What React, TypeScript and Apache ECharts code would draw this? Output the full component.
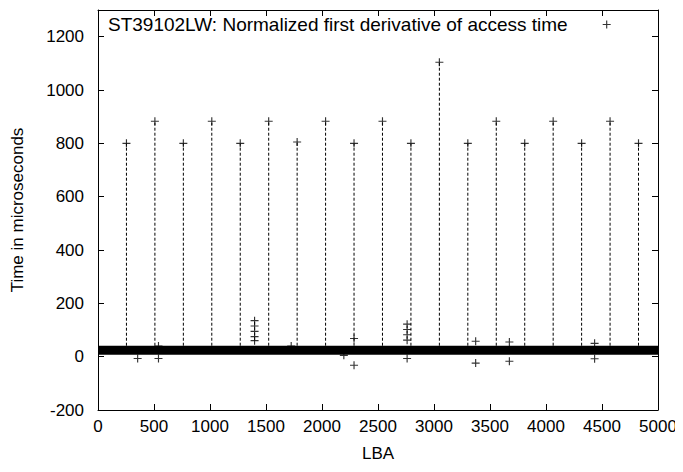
import React, { useEffect, useRef } from "react";
import * as echarts from "echarts";

// Periodic spikes (LBA, time in µs)
const spikeLBA = [254, 508, 762, 1016, 1270, 1524, 1778, 2032, 2286, 2540, 2794, 3048, 3302, 3556, 3810, 4064, 4318, 4572, 4826];
const spikeValue = [800, 883, 800, 883, 800, 883, 805, 883, 800, 883, 800, 1104, 800, 883, 800, 883, 800, 883, 800];

// Isolated outliers around the baseline
const outlierLBA = [1398, 1398, 1398, 1398, 1398, 2286, 2286, 2760, 2760, 2760, 2760, 2760, 354, 540, 540, 1725, 2195, 3372, 3372, 3673, 3673, 4434, 4434];
const outlierValue = [135, 115, 95, 75, 60, 68, -32, 122, 102, 82, 62, -7, -7, 40, -7, 40, 5, 58, -24, 55, -17, 50, -8];

// Dense baseline band (LBA range and value range)
const bandLBA = [0, 5000];
const bandLow = [7, 7];
const bandHigh = [41, 41];

// Axis ticks
const xMin = 0, xMax = 5000, xStep = 500;
const yMin = -200, yMax = 1300, yStep = 200;

const seriesName = "ST39102LW: Normalized first derivative of access time";
const plus = "path://M0,3L7,3L7,4L0,4Z M3,0L4,0L4,7L3,7Z";
const font = "Liberation Sans, Arial, Helvetica, sans-serif";

export default function App() {
  const ref = useRef<HTMLDivElement>(null);
  useEffect(() => {
    if (!ref.current) return;
    const chart = echarts.init(ref.current, null, { renderer: "svg" });
    const points = [
      ...spikeLBA.map((x, i) => [x, spikeValue[i]]),
      ...outlierLBA.map((x, i) => [x, outlierValue[i]]),
    ];
    const axisCommon = {
      type: "value" as const,
      splitLine: { show: false },
      axisLine: { show: true, onZero: false, lineStyle: { color: "#000", width: 1 } },
      axisTick: { show: true, inside: true, length: 6, lineStyle: { color: "#000" } },
    };
    const fmt = (v: number) => String(v);
    chart.setOption({
      animation: false,
      backgroundColor: "#fff",
      grid: { left: 98, right: 25, top: 10, bottom: 62 },
      legend: {
        left: 103,
        top: 10,
        align: "right",
        itemWidth: 8,
        itemHeight: 8,
        data: [{ name: seriesName, icon: plus }],
        textStyle: { color: "#000", fontSize: 19, fontFamily: font, padding: [0, 30, 0, 0] },
      },
      xAxis: [
        {
          ...axisCommon,
          min: xMin, max: xMax, interval: xStep,
          name: "LBA", nameLocation: "middle", nameGap: 35,
          nameTextStyle: { color: "#000", fontSize: 17, fontFamily: font },
          axisLabel: { color: "#000", fontSize: 17, fontFamily: font, margin: 8, formatter: fmt },
        },
        { ...axisCommon, position: "top", min: xMin, max: xMax, interval: xStep, axisLabel: { show: false } },
      ],
      yAxis: [
        {
          ...axisCommon,
          min: yMin, max: yMax, interval: yStep,
          name: "Time in microseconds", nameLocation: "middle", nameGap: 72,
          nameTextStyle: { color: "#000", fontSize: 17, fontFamily: font },
          axisLabel: { color: "#000", fontSize: 17, fontFamily: font, margin: 14, showMaxLabel: false, formatter: fmt },
        },
        { ...axisCommon, position: "right", min: yMin, max: yMax, interval: yStep, axisLabel: { show: false } },
      ],
      series: [
        {
          type: "custom",
          name: "band",
          silent: true,
          data: [[bandLBA[0], bandLow[0], bandLBA[1], bandHigh[1]]],
          renderItem: (params: any, api: any) => {
            const p0 = api.coord([api.value(0), api.value(1)]);
            const p1 = api.coord([api.value(2), api.value(3)]);
            return {
              type: "rect",
              shape: { x: p0[0], y: p1[1], width: p1[0] - p0[0], height: p0[1] - p1[1] },
              style: { fill: "#000" },
            };
          },
        },
        {
          type: "custom",
          name: "spikes",
          silent: true,
          data: spikeLBA.map((x, i) => [x, bandHigh[0], spikeValue[i]]),
          renderItem: (params: any, api: any) => {
            const a = api.coord([api.value(0), api.value(1)]);
            const b = api.coord([api.value(0), api.value(2)]);
            return {
              type: "line",
              shape: { x1: a[0], y1: a[1], x2: b[0], y2: b[1] },
              style: { stroke: "#000", lineWidth: 1, lineDash: [3, 2] },
            };
          },
        },
        {
          type: "scatter",
          name: seriesName,
          symbol: plus,
          symbolSize: 8,
          itemStyle: { color: "#000" },
          data: points,
        },
      ],
    });
    return () => chart.dispose();
  }, []);
  return <div ref={ref} style={{ width: 683, height: 472, margin: -8 }} />;
}
